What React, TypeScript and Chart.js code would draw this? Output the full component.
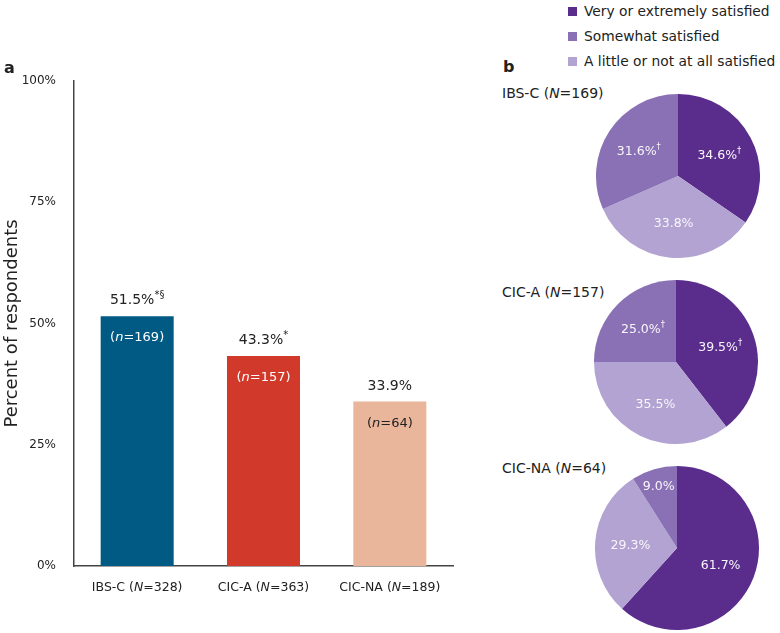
import React, { useEffect, useRef } from 'react';
import { Chart, registerables } from 'chart.js';
Chart.register(...registerables);

// ---------- data ----------
const groups = ['IBS-C', 'CIC-A', 'CIC-NA'];
const groupTotals = [328, 363, 189];
const satisfiedPercent = [51.5, 43.3, 33.9];
const satisfiedCounts = [169, 157, 64];
const satisfiedMarks = ['*§', '*', ''];
const yTickValues = [0, 25, 50, 75, 100];

const satisfactionLevels = ['Very or extremely satisfied', 'Somewhat satisfied', 'A little or not at all satisfied'];
const pieGroups = ['IBS-C', 'CIC-A', 'CIC-NA'];
const pieTotals = [169, 157, 64];
const ibscSatisfaction = [34.6, 31.6, 33.8];
const cicaSatisfaction = [39.5, 25.0, 35.5];
const cicnaSatisfaction = [61.7, 9.0, 29.3];
const ibscMarks = ['†', '†', ''];
const cicaMarks = ['†', '†', ''];
const cicnaMarks = ['', '', ''];
// clockwise order from 12 o'clock: very, a little, somewhat
const pieDrawOrder = [0, 2, 1];

// ---------- styles ----------
const FONT = '"DejaVu Sans", sans-serif';
const TEXT = '#222';
const barColors = ['#005a84', '#d13a2a', '#e9b59b'];
const barInnerText = ['#ffffff', '#ffffff', '#222222'];
const levelColors = ['#5a2d8c', '#8a70b4', '#b2a3d2'];

type Seg = { text: string; size: number; italic?: boolean; sup?: boolean; bold?: boolean };

function fontOf(s: Seg) {
  return `${s.italic ? 'italic ' : ''}${s.bold ? 'bold ' : ''}${s.size}px ${FONT}`;
}

function drawRich(ctx: CanvasRenderingContext2D, x: number, y: number, segs: Seg[], color: string) {
  ctx.save();
  ctx.textBaseline = 'alphabetic';
  ctx.textAlign = 'left';
  ctx.fillStyle = color;
  let total = 0;
  const widths = segs.map((s) => {
    ctx.font = fontOf(s);
    const w = ctx.measureText(s.text).width;
    total += w;
    return w;
  });
  let cx = x - total / 2;
  segs.forEach((s, i) => {
    ctx.font = fontOf(s);
    ctx.fillText(s.text, cx, s.sup ? y - 6 : y);
    cx += widths[i];
  });
  ctx.restore();
}

function BarPanel() {
  const ref = useRef<HTMLCanvasElement>(null);
  useEffect(() => {
    const labelsPlugin = {
      id: 'barLabels',
      afterDatasetsDraw(chart: any) {
        const ctx = chart.ctx;
        const meta = chart.getDatasetMeta(0);
        meta.data.forEach((bar: any, i: number) => {
          const { x, y } = bar.getProps(['x', 'y'], true);
          drawRich(ctx, x, y - 12, [
            { text: satisfiedPercent[i].toFixed(1) + '%', size: 14 },
            { text: satisfiedMarks[i], size: 10, sup: true },
          ], TEXT);
          drawRich(ctx, x, y + 25, [
            { text: '(', size: 13 },
            { text: 'n', size: 13, italic: true },
            { text: '=' + satisfiedCounts[i] + ')', size: 13 },
          ], barInnerText[i]);
        });
        const xs = chart.scales.x;
        groups.forEach((g, i) => {
          const px = xs.getPixelForValue(i);
          drawRich(ctx, px, xs.top + 25, [
            { text: g + ' (', size: 12.5 },
            { text: 'N', size: 12.5, italic: true },
            { text: '=' + groupTotals[i] + ')', size: 12.5 },
          ], TEXT);
        });
      },
    };
    const chart = new Chart(ref.current as HTMLCanvasElement, {
      type: 'bar',
      data: {
        labels: groups,
        datasets: [{
          data: satisfiedPercent,
          backgroundColor: barColors,
          borderWidth: 0,
          barPercentage: 0.578,
          categoryPercentage: 1,
        }],
      },
      options: {
        animation: false,
        responsive: false,
        events: [],
        layout: { padding: { top: 81, right: 17, left: 0, bottom: 0 } },
        plugins: { legend: { display: false }, tooltip: { enabled: false } },
        scales: {
          x: {
            grid: { display: false },
            border: { display: true, color: '#444', width: 1.5 },
            ticks: { display: false },
            afterFit: (s: any) => { s.height = 67; },
          },
          y: {
            min: 0,
            max: 100,
            afterBuildTicks: (s: any) => { s.ticks = yTickValues.map((v) => ({ value: v })); },
            grid: { display: false },
            border: { display: true, color: '#444', width: 1.5 },
            ticks: {
              padding: 10,
              color: TEXT,
              font: { family: FONT, size: 12 },
              callback: (v: any) => v + '%',
            },
            title: {
              display: true,
              text: 'Percent of respondents',
              color: TEXT,
              font: { family: FONT, size: 18 },
              padding: { top: 2, bottom: 0 },
            },
            afterFit: (s: any) => { s.width = 74; },
          },
        },
      },
      plugins: [labelsPlugin],
    });
    return () => chart.destroy();
  }, []);
  return (
    <canvas ref={ref} width={470} height={633}
      style={{ position: 'absolute', left: 0, top: 0, width: 470, height: 633 }} />
  );
}

function PiePanel({ values, marks, cx, cy, r }: { values: number[]; marks: string[]; cx: number; cy: number; r: number }) {
  const ref = useRef<HTMLCanvasElement>(null);
  useEffect(() => {
    const ordered = pieDrawOrder.map((k) => values[k]);
    const orderedMarks = pieDrawOrder.map((k) => marks[k]);
    const orderedColors = pieDrawOrder.map((k) => levelColors[k]);
    const labelPlugin = {
      id: 'pieLabels',
      afterDatasetsDraw(chart: any) {
        const ctx = chart.ctx;
        const meta = chart.getDatasetMeta(0);
        meta.data.forEach((arc: any, i: number) => {
          const p = arc.getProps(['x', 'y', 'startAngle', 'endAngle', 'outerRadius'], true);
          const mid = (p.startAngle + p.endAngle) / 2;
          const frac = (p.endAngle - p.startAngle) / (Math.PI * 2);
          const rr = p.outerRadius * (frac < 0.15 ? 0.8 : 0.57);
          const lx = p.x + Math.cos(mid) * rr;
          const ly = p.y + Math.sin(mid) * rr;
          drawRich(ctx, lx, ly + 4.5, [
            { text: ordered[i].toFixed(1) + '%', size: 12.5 },
            { text: orderedMarks[i], size: 8.5, sup: true },
          ], '#f8f6fb');
        });
      },
    };
    const chart = new Chart(ref.current as HTMLCanvasElement, {
      type: 'pie',
      data: {
        labels: pieDrawOrder.map((k) => satisfactionLevels[k]),
        datasets: [{
          data: ordered,
          backgroundColor: orderedColors,
          borderWidth: 0,
          hoverOffset: 0,
          offset: 0,
        }],
      },
      options: {
        animation: false,
        responsive: false,
        events: [],
        layout: { padding: 0 },
        plugins: { legend: { display: false }, tooltip: { enabled: false } },
      },
      plugins: [labelPlugin],
    });
    return () => chart.destroy();
  }, [values, marks]);
  const size = r * 2;
  return (
    <canvas ref={ref} width={size} height={size}
      style={{ position: 'absolute', left: cx - r, top: cy - r, width: size, height: size }} />
  );
}

const textStyle: React.CSSProperties = {
  position: 'absolute',
  fontFamily: FONT,
  color: TEXT,
  whiteSpace: 'nowrap',
  lineHeight: '18px',
};

export default function App() {
  const pieData = [
    { values: ibscSatisfaction, marks: ibscMarks, cy: 176, cx: 678, titleY: 93 },
    { values: cicaSatisfaction, marks: cicaMarks, cy: 362, cx: 676, titleY: 292 },
    { values: cicnaSatisfaction, marks: cicnaMarks, cy: 548, cx: 677, titleY: 468 },
  ];
  const legendY = [11, 36, 61];
  return (
    <div style={{ position: 'absolute', left: 0, top: 0, width: 780, height: 633, background: '#fff', overflow: 'hidden' }}>
      <BarPanel />
      <div style={{ ...textStyle, left: 4, top: 59, fontSize: 16, fontWeight: 'bold' }}>a</div>
      <div style={{ ...textStyle, left: 503, top: 58, fontSize: 16, fontWeight: 'bold' }}>b</div>
      {pieData.map((p, i) => (
        <React.Fragment key={pieGroups[i]}>
          <div style={{ ...textStyle, left: 502, top: p.titleY - 9, fontSize: 14 }}>
            {pieGroups[i]} (<i>N</i>={pieTotals[i]})
          </div>
          <PiePanel values={p.values} marks={p.marks} cx={p.cx} cy={p.cy} r={82} />
        </React.Fragment>
      ))}
      {satisfactionLevels.map((lvl, i) => (
        <React.Fragment key={lvl}>
          <div style={{ position: 'absolute', left: 568, top: legendY[i] - 4.5, width: 9, height: 9, background: levelColors[i] }} />
          <div style={{ ...textStyle, left: 584, top: legendY[i] - 9, fontSize: 13.8 }}>{lvl}</div>
        </React.Fragment>
      ))}
    </div>
  );
}
